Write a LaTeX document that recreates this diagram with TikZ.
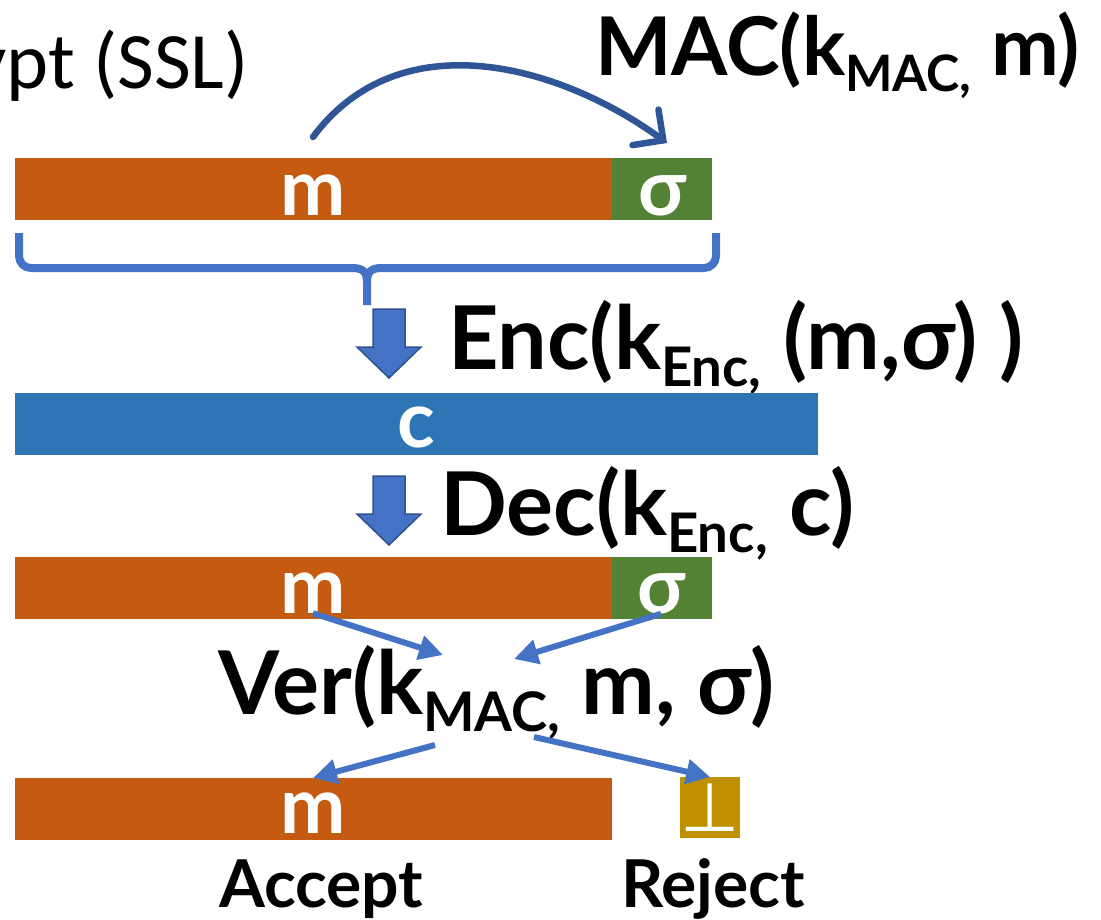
\documentclass[tikz,border=0pt]{standalone}
\usepackage{fontspec}
\usetikzlibrary{arrows.meta,positioning}
\newfontfamily\comic{Lato}
\newfontfamily\calib{Carlito}
\newfontfamily\symb{DejaVu Sans}
\definecolor{msgorange}{HTML}{C55A11}
\definecolor{taggreen}{HTML}{548235}
\definecolor{ctblue}{HTML}{2E75B6}
\definecolor{flowblue}{HTML}{4472C4}
\definecolor{darkblue}{HTML}{2F5597}
\definecolor{rimblue}{HTML}{2F528F}
\definecolor{rejgold}{HTML}{BF9000}
\newcommand{\lowsub}[1]{\raisebox{-0.2em}{\scalebox{0.62}{#1}}}

\begin{document}
\begin{tikzpicture}[x=1pt,y=-1pt,
    bar/.style={rectangle,inner sep=0pt,anchor=north west,minimum height=62pt},
    lbl/.style={text=white,font=\comic\bfseries\fontsize{78}{80}\selectfont,inner sep=0pt,anchor=base},
    title/.style={font=\comic\bfseries\fontsize{88}{90}\selectfont,inner sep=0pt,anchor=base west},
    small/.style={font=\comic\bfseries\fontsize{66}{68}\selectfont,inner sep=0pt,anchor=base west},
    flow/.style={draw=flowblue,line width=6pt,-{Triangle[length=24pt,width=24pt]}},
    blockarrow/.style={fill=flowblue,draw=rimblue,line width=1.5pt,line join=miter},
    brace/.style={draw=flowblue,line width=8pt}]
    \useasboundingbox (0,0) rectangle (1101,919);

    % heading
    \node[font=\calib\fontsize{80}{82}\selectfont,inner sep=0pt,anchor=base east] (head) at (249,88) {ypt (SSL)};
    \node[title,font=\comic\bfseries\fontsize{81}{84}\selectfont] (mac) at (595,75) {MAC(k\lowsub{MAC,} m)};

    % m || sigma
    \node[bar,fill=msgorange,minimum width=597pt] (mbar1) at (15,158) {};
    \node[bar,fill=taggreen,minimum width=100pt] (sbar1) at (612,158) {};
    \node[lbl] (m1) at (313,215) {m};
    \node[lbl] (s1) at (662,215) {σ};
    \coordinate (macfrom) at (313,137);
    \coordinate (macto) at (667,143);
    \draw[darkblue,line width=6.5pt,line cap=round,-{Straight Barb[length=22pt,width=44pt,line cap=round]}]
        (macfrom) .. controls (400,20) and (560,65) .. (macto);

    % brace
    \draw[brace] (19,233) -- (19,256) to[out=-90,in=180] (31,268) -- (352,268)
        .. controls (362,268) and (367,271) .. (367,282) -- (367,305);
    \draw[brace] (716,233) -- (716,256) to[out=-90,in=0] (704,268) -- (382,268)
        .. controls (372,268) and (367,271) .. (367,282);

    % block arrows
    \foreach \y in {0,167}
        \draw[blockarrow] (373,309+\y) -- (405,309+\y) -- (405,347+\y) -- (421,347+\y)
            -- (389,378+\y) -- (357,347+\y) -- (373,347+\y) -- cycle;
    \node[title] (enc) at (448,369) {Enc(k\lowsub{Enc,} (m,σ) )};

    % ciphertext
    \node[bar,fill=ctblue,minimum width=803pt] (cbar) at (15,393) {};
    \node[lbl] (c) at (416,447) {c};
    \node[title] (dec) at (440,535) {Dec(k\lowsub{Enc,} c)};

    % decrypted
    \node[bar,fill=msgorange,minimum width=597pt] (mbar3) at (15,557) {};
    \node[bar,fill=taggreen,minimum width=100pt] (sbar3) at (612,557) {};
    \node[lbl] (m3) at (313,613) {m};
    \node[lbl] (s3) at (661,613) {σ};

    % verify
    \node[title] (ver) at (218,714) {Ver(k\lowsub{MAC,} m, σ)};
    \coordinate (vin1) at (443,655);
    \coordinate (vin2) at (514,659);
    \coordinate (vout1) at (435,745);
    \coordinate (vout2) at (534,737);
    \draw[flow] (m3.south) -- (vin1);
    \draw[flow] (s3.south) -- (vin2);

    % outcome
    \node[bar,fill=msgorange,minimum width=597pt] (mbar4) at (15,778) {};
    \node[lbl] (m4) at (313,833) {m};
    \node[bar,fill=rejgold,minimum width=60pt,minimum height=61pt] (rej) at (680,777) {};
    \node[text=white,font=\symb\fontsize{68}{68}\selectfont,inner sep=0pt] (bot) at (rej) {⊥};
    \draw[flow] (vout1) -- (mbar4.north -| m4);
    \draw[flow] (vout2) -- (rej.north);
    \node[small] (acc) at (219,907) {Accept};
    \node[small] (rjt) at (621,907) {Reject};
\end{tikzpicture}
\end{document}
